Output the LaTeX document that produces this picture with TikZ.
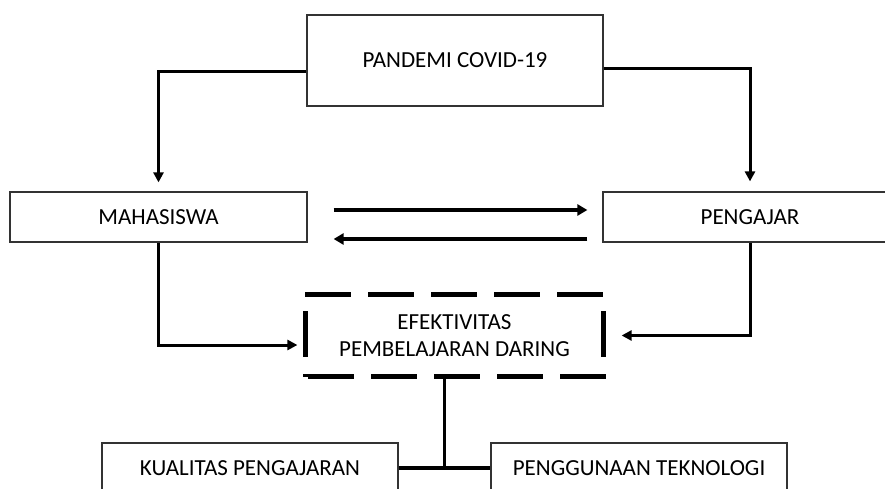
\documentclass[tikz,border=0pt]{standalone}
\usepackage{fontspec}
\setmainfont{Carlito}
\usetikzlibrary{arrows.meta,calc}
\begin{document}
\begin{tikzpicture}[x=1pt,y=-1pt,
  box/.style={draw=black!80,line width=1.2pt,fill=white,align=center,inner sep=0pt,
    font=\fontsize{23}{27}\selectfont},
  conn/.style={line width=3pt,-{Triangle[length=10pt,width=10pt]}},
  plain/.style={line width=3.2pt},
  mid/.style={line width=4pt,-{Triangle[length=10pt,width=11pt]}},
  dashb/.style={line width=5pt,dash pattern=on 46pt off 17pt}]
\useasboundingbox (0,0) rectangle (885,489);
\node[box,minimum width=296pt,minimum height=91pt] (pand) at (455,60.5) {PANDEMI COVID-19};
\node[box,minimum width=297pt,minimum height=50pt] (mah) at (158.5,217) {MAHASISWA};
\node[box,minimum width=294pt,minimum height=50pt] (peng) at (750,217) {PENGAJAR};
\node[box,draw=none,fill=none,minimum width=297pt,minimum height=81pt] (efek) at (454.5,335.5) {EFEKTIVITAS\\PEMBELAJARAN DARING};
\node[box,minimum width=296pt,minimum height=50pt] (kual) at (250,468) {KUALITAS PENGAJARAN};
\node[box,minimum width=296pt,minimum height=50pt] (tekn) at (639,468) {PENGGUNAAN TEKNOLOGI};
% dashed border of efek
\draw[dashb] (efek.north west) -- (efek.north east);
\draw[dashb] ([xshift=3pt]efek.south west) -- ([xshift=3pt]efek.south east);
\draw[dashb,dash phase=46pt] (efek.north west) -- (efek.south west);
\draw[dashb,dash phase=46pt] (efek.north east) -- (efek.south east);
% connectors
\draw[conn] ([yshift=-11.5pt]pand.west) -| ([yshift=9pt]mah.north);
\draw[conn] ([yshift=-8.5pt]pand.east) -| ([yshift=10pt]peng.north);
\draw[mid] ([xshift=26pt,yshift=7pt]mah.east) -- ([xshift=-15pt,yshift=7pt]peng.west);
\draw[mid] ([xshift=-15pt,yshift=-22pt]peng.west) -- ([xshift=26pt,yshift=-22pt]mah.east);
\draw[conn] (mah.south) |- ([xshift=-8pt,yshift=-9.5pt]efek.west);
\draw[conn] (peng.south) |- ([xshift=18pt]efek.east);
\coordinate (j) at ($(kual.east)!0.5!(tekn.west)$);
\draw[plain] (kual.east) -- (tekn.west);
\draw[plain] (j) -- (j |- efek.south);
\end{tikzpicture}
\end{document}
